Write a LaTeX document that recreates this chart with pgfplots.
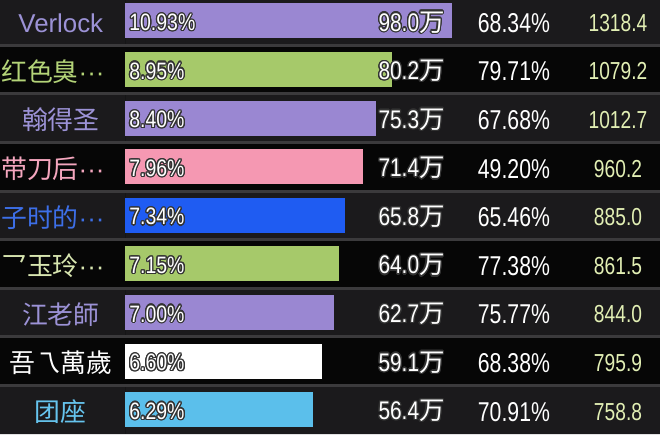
\documentclass[border=0pt]{standalone}
\usepackage{pgfplots}
\pgfplotsset{compat=1.18}
\usepackage{pgfplotstable}
\usepackage{fontspec}
\usepackage[copies]{contour}
\setmainfont{Liberation Sans}
\newfontfamily\cjk{Noto Sans CJK SC}
\newfontfamily\numf[FakeStretch=0.82]{Liberation Sans}
\newfontfamily\numg[FakeStretch=0.78]{Liberation Sans}
\contourlength{0.7pt}

\definecolor{cBg}{HTML}{060606}
\definecolor{cBand}{HTML}{1B1A1C}
\definecolor{cSep}{HTML}{3B3A3C}
\definecolor{cPurple}{HTML}{9A87D2}
\definecolor{cGreen}{HTML}{A6C96A}
\definecolor{cPink}{HTML}{F598B2}
\definecolor{cBlue}{HTML}{1F5CF2}
\definecolor{cCyan}{HTML}{5BBFEB}
\definecolor{nPurple}{HTML}{9C92D6}
\definecolor{nGreen}{HTML}{B4D478}
\definecolor{nPink}{HTML}{F4A6BE}
\definecolor{nBlue}{HTML}{3D6FE8}
\definecolor{nPale}{HTML}{D8E6B0}
\definecolor{nCyan}{HTML}{66C4EE}
\definecolor{cScore}{HTML}{E2EFB4}

\pgfplotstableread{
row val pct share score
1 98.0 10.93 68.34 1318.4
2 80.2 8.95 79.71 1079.2
3 75.3 8.40 67.68 1012.7
4 71.4 7.96 49.20 960.2
5 65.8 7.34 65.46 885.0
6 64.0 7.15 77.38 861.5
7 62.7 7.00 75.77 844.0
8 59.1 6.60 68.38 795.9
9 56.4 6.29 70.91 758.8
}\data

\pgfkeys{/pgf/number format/.cd, assume math mode=true, 1000 sep={}}

\newcommand{\middots}{\rmfamily ···\kern9pt}

\pgfplotsset{
  bars/.style={xbar, bar width=0.72, bar shift=0pt, draw=none},
  band/.style={xbar, bar width=1, bar shift=0pt, draw=none, fill=cBand},
  lab/.style={draw=none, mark=none, nodes near coords, point meta=explicit},
  onlyrow/.style 2 args={skip coords between index={0}{#1}, skip coords between index={#2}{99}},
}

\begin{document}
\begin{tikzpicture}
\begin{axis}[
  width=13.2cm, height=8.68cm, scale only axis,
  xmin=-37.70, xmax=160.58, ymin=0.568, ymax=9.5, y dir=reverse,
  axis on top,
  axis background/.style={fill=cBg},
  axis line style={draw=none},
  major tick length=0pt, minor tick length=0pt,
  xtick=\empty, minor xtick={-0.84,98.39,135.56},
  ytick={1,...,9}, minor ytick={1.5,2.5,...,8.5},
  xminorgrids, yminorgrids,
  minor grid style={draw=cSep, line width=1.7pt},
  yticklabels={
    \textcolor{nPurple}{Verlock},
    \textcolor{nGreen}{\cjk 红色臭\middots},
    \textcolor{nPurple}{\cjk 翰得圣},
    \textcolor{nPink}{\cjk 带刀后\middots},
    \textcolor{nBlue}{\cjk 子时的\middots},
    \textcolor{nPale}{\cjk 乛玉玲\middots},
    \textcolor{nPurple}{\cjk 江老師},
    \textcolor{white}{\cjk 吾乁萬歲},
    \textcolor{nCyan}{\cjk 团座}},
  yticklabel style={anchor=center, xshift=34.6pt, yshift=-1.1pt, inner sep=0pt,
    font=\fontsize{14.7}{15}\selectfont},
]
% row bands
\addplot[band] coordinates {(160.58,1) (160.58,3) (160.58,5) (160.58,7) (160.58,9)};
\addplot[band] coordinates {(-37.70,1) (-37.70,3) (-37.70,5) (-37.70,7) (-37.70,9)};
% bars
\addplot[bars, fill=cPurple, onlyrow={0}{1}] table[x=val, y=row]{\data};
\addplot[bars, fill=cGreen,  onlyrow={1}{2}] table[x=val, y=row]{\data};
\addplot[bars, fill=cPurple, onlyrow={2}{3}] table[x=val, y=row]{\data};
\addplot[bars, fill=cPink,   onlyrow={3}{4}] table[x=val, y=row]{\data};
\addplot[bars, fill=cBlue,   onlyrow={4}{5}] table[x=val, y=row]{\data};
\addplot[bars, fill=cGreen,  onlyrow={5}{6}] table[x=val, y=row]{\data};
\addplot[bars, fill=cPurple, onlyrow={6}{7}] table[x=val, y=row]{\data};
\addplot[bars, fill=white,   onlyrow={7}{8}] table[x=val, y=row]{\data};
\addplot[bars, fill=cCyan,   onlyrow={8}{9}] table[x=val, y=row]{\data};
% percentage labels inside bars
\addplot[lab,
  nodes near coords={\contour{black!80}{\pgfmathprintnumber[fixed,fixed zerofill,precision=2]{\pgfplotspointmeta}\%}},
  nodes near coords style={anchor=west, inner sep=0pt, yshift=-1.1pt, text=white,
    font=\numf\fontsize{13.5}{14}\selectfont}]
  table[x expr=1.05, y=row, meta=pct]{\data};
% value labels
\addplot[lab,
  nodes near coords={\contour{black!80}{\pgfmathprintnumber[fixed,fixed zerofill,precision=1]{\pgfplotspointmeta}{\cjk 万}}},
  nodes near coords style={anchor=east, inner sep=0pt, yshift=-1.1pt, text=white,
    font=\numf\fontsize{14.5}{15}\selectfont}]
  table[x expr=95.99, y=row, meta=val]{\data};
% share column
\addplot[lab,
  nodes near coords={\pgfmathprintnumber[fixed,fixed zerofill,precision=2]{\pgfplotspointmeta}\%},
  nodes near coords style={anchor=center, inner sep=0pt, yshift=-1.1pt, text=white,
    font=\numg\fontsize{15.5}{16}\selectfont}]
  table[x expr=116.7, y=row, meta=share]{\data};
% score column
\addplot[lab,
  nodes near coords={\pgfmathprintnumber[fixed,fixed zerofill,precision=1]{\pgfplotspointmeta}},
  nodes near coords style={anchor=center, inner sep=0pt, yshift=-1.1pt, text=cScore,
    font=\numg\fontsize{14}{15}\selectfont}]
  table[x expr=147.96, y=row, meta=score]{\data};
\end{axis}
\pgfresetboundingbox
\useasboundingbox (current axis.south west) rectangle (current axis.north east);
\end{tikzpicture}
\end{document}
